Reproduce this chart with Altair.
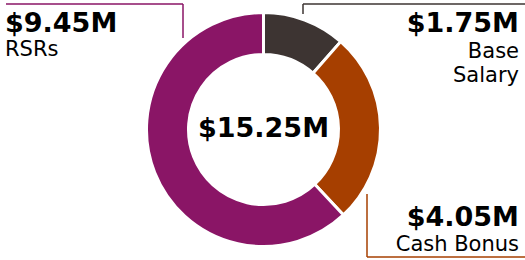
import altair as alt
import pandas as pd

categories = ["Base Salary", "Cash Bonus", "RSRs"]
values = [1.75, 4.05, 9.45]
colors = ["#3d3432", "#a63f00", "#8a1566"]
total = round(sum(values), 2)

df = pd.DataFrame({"category": categories, "value": values, "order": [0, 1, 2]})
df["amount"] = df["value"].map(lambda v: f"${v:.2f}M")

FONT = "DejaVu Sans"
W, H = 525, 260
CX, CY = 263.5, 129.5

base = alt.Chart(df)

donut = base.mark_arc(outerRadius=117, innerRadius=75, stroke="white", strokeWidth=3).encode(
    theta=alt.Theta("value:Q", stack=True),
    order=alt.Order("order:Q"),
    color=alt.Color("category:N", scale=alt.Scale(domain=categories, range=colors), legend=None),
    x=alt.value(CX),
    y=alt.value(CY),
)

one = pd.DataFrame({"k": [0]})


def seg(x1, y1, x2, y2, color):
    return alt.Chart(one).mark_rule(color=color, strokeWidth=1.5).encode(
        x=alt.value(x1), x2=alt.value(x2), y=alt.value(y1), y2=alt.value(y2)
    )


def label(cat, field, x, y, align, size, weight, line_break=None):
    kw = dict(align=align, baseline="alphabetic", fontSize=size, fontWeight=weight,
              font=FONT, color="black")
    if line_break is not None:
        kw["lineBreak"] = line_break
        kw["lineHeight"] = 24
    return base.transform_filter(alt.datum.category == cat).mark_text(**kw).encode(
        x=alt.value(x), y=alt.value(y), text=alt.Text(f"{field}:N")
    )


center = alt.Chart(pd.DataFrame({"t": [f"${total:.2f}M"]})).mark_text(
    align="center", baseline="alphabetic", fontSize=27, fontWeight="bold", font=FONT, color="black"
).encode(x=alt.value(CX), y=alt.value(137), text="t:N")

layers = [
    donut,
    seg(6, 4, 183, 4, colors[2]), seg(183, 4, 183, 38, colors[2]),
    seg(303, 4, 525, 4, colors[0]), seg(303, 4, 303, 14, colors[0]),
    seg(367, 194, 367, 257, colors[1]), seg(367, 257, 525, 257, colors[1]),
    label("RSRs", "amount", 5, 32, "left", 27, "bold"),
    label("RSRs", "category", 5, 56, "left", 21, "normal"),
    label("Base Salary", "amount", 519, 32, "right", 27, "bold"),
    label("Base Salary", "category", 519, 58, "right", 21, "normal", line_break=" "),
    label("Cash Bonus", "amount", 519, 226, "right", 27, "bold"),
    label("Cash Bonus", "category", 519, 251, "right", 21, "normal"),
    center,
]

chart = alt.layer(*layers).properties(
    width=W, height=H, padding=0, autosize="none"
).configure_view(stroke=None)

chart.save("out.html", embed_options={"renderer": "svg", "actions": False})
